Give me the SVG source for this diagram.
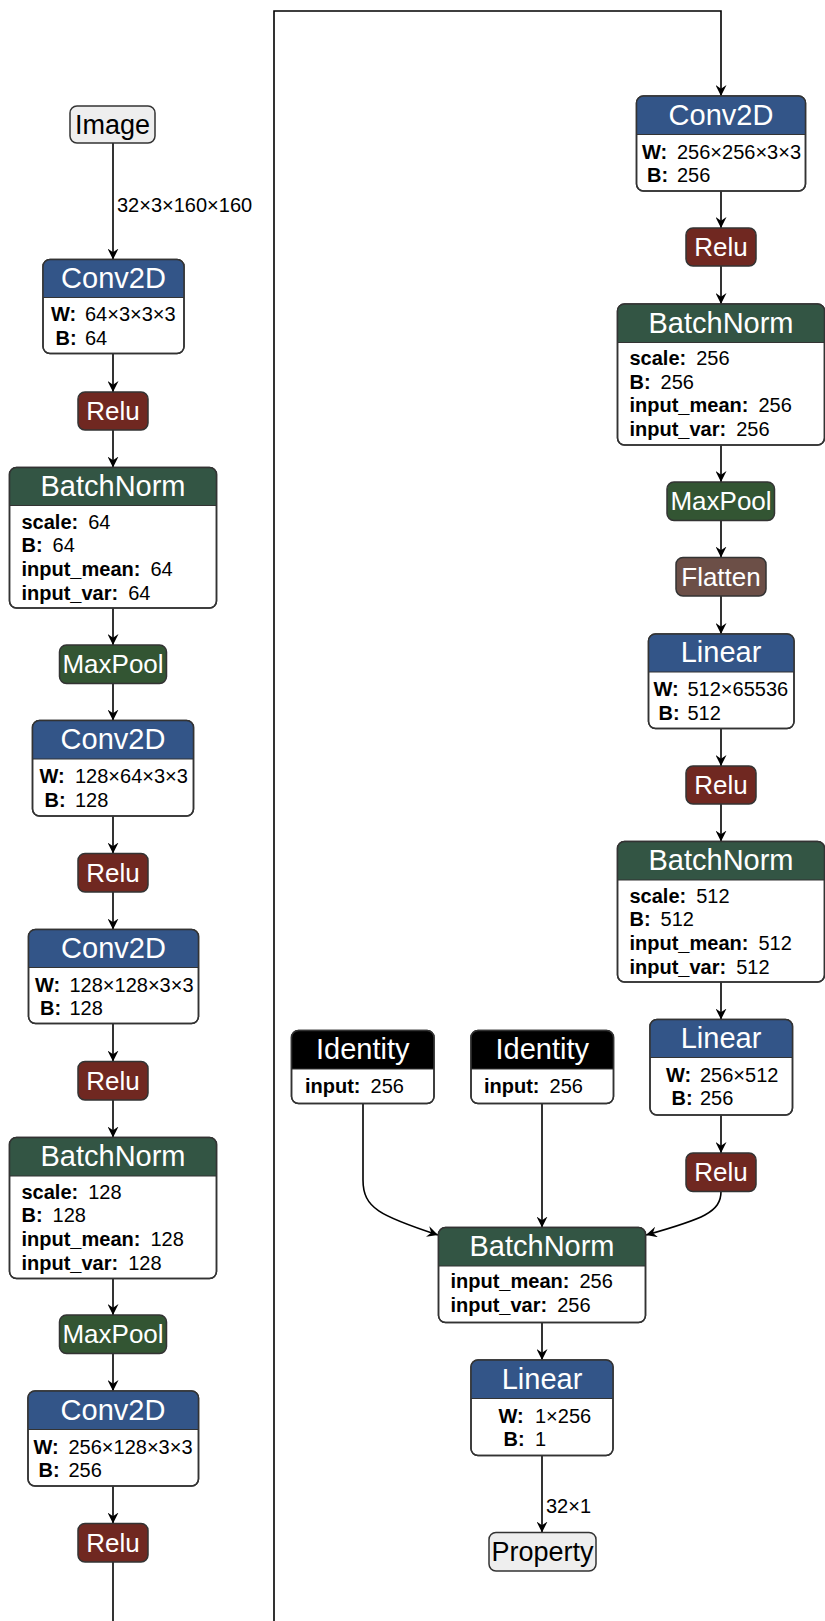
<svg xmlns="http://www.w3.org/2000/svg" width="825" height="1621" viewBox="0 0 825 1621">
<style>
text{font-family:"Liberation Sans",Arial,Helvetica,sans-serif;}
.box{fill:#fff;stroke:#333;stroke-width:1.5;}
.ol{fill:none;stroke:#333;stroke-width:1.5;}
.sep{stroke:#333;stroke-width:1.2;}
.conv{fill:#335588;}
.bn{fill:#335544;}
.act{fill:#702821;stroke:#333;stroke-width:1.5;}
.pool{fill:#335533;stroke:#333;stroke-width:1.5;}
.shape{fill:#6c4f47;stroke:#333;stroke-width:1.5;}
.idn{fill:#000;}
.io{fill:#eee;stroke:#333;stroke-width:1.5;}
.t{fill:#fff;font-size:29px;text-anchor:middle;}
.ts{fill:#fff;font-size:26px;text-anchor:middle;}
.tio{fill:#000;font-size:27px;text-anchor:middle;}
.a{fill:#000;font-size:20px;}
.n{font-weight:bold;}
.lbl{fill:#000;font-size:20px;}
.e{fill:none;stroke:#000;stroke-width:1.6;}
</style>
<defs>
<marker id="arr" viewBox="0 0 10 10" refX="10" refY="5" markerWidth="11" markerHeight="11" markerUnits="userSpaceOnUse" orient="auto">
<path d="M0,0 L10,5 L0,10 L3.5,5 Z" fill="#000"/>
</marker>
</defs>

<g id="connectors">
<path class="e" d="M113,143 V259.5" marker-end="url(#arr)"/>
<path class="e" d="M113,353.5 V392" marker-end="url(#arr)"/>
<path class="e" d="M113,430 V467.5" marker-end="url(#arr)"/>
<path class="e" d="M113,608 V645" marker-end="url(#arr)"/>
<path class="e" d="M113,683.5 V720.5" marker-end="url(#arr)"/>
<path class="e" d="M113,816 V853.5" marker-end="url(#arr)"/>
<path class="e" d="M113,892 V929.5" marker-end="url(#arr)"/>
<path class="e" d="M113,1023.5 V1061.5" marker-end="url(#arr)"/>
<path class="e" d="M113,1100 V1137.5" marker-end="url(#arr)"/>
<path class="e" d="M113,1278.5 V1315" marker-end="url(#arr)"/>
<path class="e" d="M113,1353.5 V1391" marker-end="url(#arr)"/>
<path class="e" d="M113,1486 V1523.5" marker-end="url(#arr)"/>
<path class="e" d="M113,1562 V1621"/>
<path class="e" d="M274,1621 V11 H721 V96" marker-end="url(#arr)"/>
<path class="e" d="M721,191 V228" marker-end="url(#arr)"/>
<path class="e" d="M721,266 V304" marker-end="url(#arr)"/>
<path class="e" d="M721,445 V482" marker-end="url(#arr)"/>
<path class="e" d="M721,520.5 V557.5" marker-end="url(#arr)"/>
<path class="e" d="M721,596 V634" marker-end="url(#arr)"/>
<path class="e" d="M721,728.5 V766" marker-end="url(#arr)"/>
<path class="e" d="M721,804 V841.5" marker-end="url(#arr)"/>
<path class="e" d="M721,982 V1019.5" marker-end="url(#arr)"/>
<path class="e" d="M721,1115 V1153" marker-end="url(#arr)"/>
<path class="e" d="M721,1191.5 C721,1212 703,1219 646,1235" marker-end="url(#arr)"/>
<path class="e" d="M363,1103.5 V1180 C363,1208 380,1216 438,1235" marker-end="url(#arr)"/>
<path class="e" d="M542,1103.5 V1227.5" marker-end="url(#arr)"/>
<path class="e" d="M542,1322.5 V1360" marker-end="url(#arr)"/>
<path class="e" d="M542,1456 V1532.5" marker-end="url(#arr)"/>
<text class="lbl" x="117" y="211.5">32×3×160×160</text>
<text class="lbl" x="546" y="1513">32×1</text>
</g>

<g id="image">
<rect class="io" x="70" y="106" width="85" height="37" rx="7"/>
<text class="tio" x="112.5" y="133.5">Image</text>
</g>

<g id="conv1">
<rect class="box" x="43" y="259.5" width="141" height="94" rx="7"/>
<path class="conv" d="M43,297.5 V266.5 A7,7 0 0 1 50,259.5 H177 A7,7 0 0 1 184,266.5 V297.5 Z"/>
<line class="sep" x1="43" y1="297.5" x2="184" y2="297.5"/>
<rect class="ol" x="43" y="259.5" width="141" height="94" rx="7"/>
<text class="t" x="113.5" y="287.5">Conv2D</text>
<text class="a n" x="51" y="321">W:</text><text class="a" x="85" y="321">64×3×3×3</text>
<text class="a n" x="55.5" y="344.5">B:</text><text class="a" x="85" y="344.5">64</text>
</g>

<g id="relu1">
<rect class="act" x="78" y="392" width="70" height="38" rx="7"/>
<text class="ts" x="113" y="420">Relu</text>
</g>

<g id="bn1">
<rect class="box" x="9.5" y="467.5" width="207" height="140.5" rx="7"/>
<path class="bn" d="M9.5,505.5 V474.5 A7,7 0 0 1 16.5,467.5 H209.5 A7,7 0 0 1 216.5,474.5 V505.5 Z"/>
<line class="sep" x1="9.5" y1="505.5" x2="216.5" y2="505.5"/>
<rect class="ol" x="9.5" y="467.5" width="207" height="140.5" rx="7"/>
<text class="t" x="113" y="496">BatchNorm</text>
<text class="a" x="21.5" y="528.5"><tspan class="n">scale:</tspan><tspan dx="10">64</tspan></text>
<text class="a" x="21.5" y="552.2"><tspan class="n">B:</tspan><tspan dx="10">64</tspan></text>
<text class="a" x="21.5" y="575.9"><tspan class="n">input_mean:</tspan><tspan dx="10">64</tspan></text>
<text class="a" x="21.5" y="599.6"><tspan class="n">input_var:</tspan><tspan dx="10">64</tspan></text>
</g>

<g id="maxpool1">
<rect class="pool" x="59.5" y="645" width="107" height="38.5" rx="7"/>
<text class="ts" x="113" y="673">MaxPool</text>
</g>

<g id="conv2">
<rect class="box" x="32.5" y="720.5" width="161" height="95.5" rx="7"/>
<path class="conv" d="M32.5,759 V727.5 A7,7 0 0 1 39.5,720.5 H186.5 A7,7 0 0 1 193.5,727.5 V759 Z"/>
<line class="sep" x1="32.5" y1="759" x2="193.5" y2="759"/>
<rect class="ol" x="32.5" y="720.5" width="161" height="95.5" rx="7"/>
<text class="t" x="113" y="749">Conv2D</text>
<text class="a n" x="39.5" y="783">W:</text><text class="a" x="75" y="783">128×64×3×3</text>
<text class="a n" x="44.5" y="806.7">B:</text><text class="a" x="75" y="806.7">128</text>
</g>

<g id="relu2">
<rect class="act" x="78" y="853.5" width="70" height="38.5" rx="7"/>
<text class="ts" x="113" y="881.5">Relu</text>
</g>

<g id="conv3">
<rect class="box" x="28.5" y="929.5" width="170" height="94" rx="7"/>
<path class="conv" d="M28.5,967.5 V936.5 A7,7 0 0 1 35.5,929.5 H191.5 A7,7 0 0 1 198.5,936.5 V967.5 Z"/>
<line class="sep" x1="28.5" y1="967.5" x2="198.5" y2="967.5"/>
<rect class="ol" x="28.5" y="929.5" width="170" height="94" rx="7"/>
<text class="t" x="113.5" y="957.5">Conv2D</text>
<text class="a n" x="35" y="991.5">W:</text><text class="a" x="69.5" y="991.5">128×128×3×3</text>
<text class="a n" x="40" y="1015.2">B:</text><text class="a" x="69.5" y="1015.2">128</text>
</g>

<g id="relu3">
<rect class="act" x="78" y="1061.5" width="70" height="38.5" rx="7"/>
<text class="ts" x="113" y="1089.5">Relu</text>
</g>

<g id="bn2">
<rect class="box" x="9.5" y="1137.5" width="207" height="141" rx="7"/>
<path class="bn" d="M9.5,1176 V1144.5 A7,7 0 0 1 16.5,1137.5 H209.5 A7,7 0 0 1 216.5,1144.5 V1176 Z"/>
<line class="sep" x1="9.5" y1="1176" x2="216.5" y2="1176"/>
<rect class="ol" x="9.5" y="1137.5" width="207" height="141" rx="7"/>
<text class="t" x="113" y="1166">BatchNorm</text>
<text class="a" x="21.5" y="1198.5"><tspan class="n">scale:</tspan><tspan dx="10">128</tspan></text>
<text class="a" x="21.5" y="1222.2"><tspan class="n">B:</tspan><tspan dx="10">128</tspan></text>
<text class="a" x="21.5" y="1245.9"><tspan class="n">input_mean:</tspan><tspan dx="10">128</tspan></text>
<text class="a" x="21.5" y="1269.6"><tspan class="n">input_var:</tspan><tspan dx="10">128</tspan></text>
</g>

<g id="maxpool2">
<rect class="pool" x="59.5" y="1315" width="107" height="38.5" rx="7"/>
<text class="ts" x="113" y="1343">MaxPool</text>
</g>

<g id="conv4">
<rect class="box" x="28" y="1391" width="170.5" height="95" rx="7"/>
<path class="conv" d="M28,1429.5 V1398 A7,7 0 0 1 35,1391 H191.5 A7,7 0 0 1 198.5,1398 V1429.5 Z"/>
<line class="sep" x1="28" y1="1429.5" x2="198.5" y2="1429.5"/>
<rect class="ol" x="28" y="1391" width="170.5" height="95" rx="7"/>
<text class="t" x="113" y="1419.5">Conv2D</text>
<text class="a n" x="33.5" y="1453.5">W:</text><text class="a" x="68.5" y="1453.5">256×128×3×3</text>
<text class="a n" x="38.5" y="1477.2">B:</text><text class="a" x="68.5" y="1477.2">256</text>
</g>

<g id="relu4">
<rect class="act" x="78" y="1523.5" width="70" height="38.5" rx="7"/>
<text class="ts" x="113" y="1551.5">Relu</text>
</g>

<g id="convR1">
<rect class="box" x="636.5" y="96" width="169" height="95" rx="7"/>
<path class="conv" d="M636.5,134.5 V103 A7,7 0 0 1 643.5,96 H798.5 A7,7 0 0 1 805.5,103 V134.5 Z"/>
<line class="sep" x1="636.5" y1="134.5" x2="805.5" y2="134.5"/>
<rect class="ol" x="636.5" y="96" width="169" height="95" rx="7"/>
<text class="t" x="721" y="124.5">Conv2D</text>
<text class="a n" x="642" y="158.5">W:</text><text class="a" x="677" y="158.5">256×256×3×3</text>
<text class="a n" x="647" y="182.2">B:</text><text class="a" x="677" y="182.2">256</text>
</g>

<g id="reluR1">
<rect class="act" x="686" y="228" width="70" height="38" rx="7"/>
<text class="ts" x="721" y="256">Relu</text>
</g>

<g id="bnR1">
<rect class="box" x="617.5" y="304" width="207" height="141" rx="7"/>
<path class="bn" d="M617.5,342.5 V311 A7,7 0 0 1 624.5,304 H817.5 A7,7 0 0 1 824.5,311 V342.5 Z"/>
<line class="sep" x1="617.5" y1="342.5" x2="824.5" y2="342.5"/>
<rect class="ol" x="617.5" y="304" width="207" height="141" rx="7"/>
<text class="t" x="721" y="332.5">BatchNorm</text>
<text class="a" x="629.5" y="365"><tspan class="n">scale:</tspan><tspan dx="10">256</tspan></text>
<text class="a" x="629.5" y="388.7"><tspan class="n">B:</tspan><tspan dx="10">256</tspan></text>
<text class="a" x="629.5" y="412.4"><tspan class="n">input_mean:</tspan><tspan dx="10">256</tspan></text>
<text class="a" x="629.5" y="436.1"><tspan class="n">input_var:</tspan><tspan dx="10">256</tspan></text>
</g>

<g id="maxpoolR1">
<rect class="pool" x="667" y="482" width="107.5" height="38.5" rx="7"/>
<text class="ts" x="721" y="510">MaxPool</text>
</g>

<g id="flatten">
<rect class="shape" x="676" y="557.5" width="90" height="38.5" rx="7"/>
<text class="ts" x="721" y="585.5">Flatten</text>
</g>

<g id="linearR1">
<rect class="box" x="648.5" y="634" width="145.5" height="94.5" rx="7"/>
<path class="conv" d="M648.5,672 V641 A7,7 0 0 1 655.5,634 H787 A7,7 0 0 1 794,641 V672 Z"/>
<line class="sep" x1="648.5" y1="672" x2="794" y2="672"/>
<rect class="ol" x="648.5" y="634" width="145.5" height="94.5" rx="7"/>
<text class="t" x="721" y="662">Linear</text>
<text class="a n" x="653.5" y="696">W:</text><text class="a" x="687.5" y="696">512×65536</text>
<text class="a n" x="658.5" y="719.7">B:</text><text class="a" x="687.5" y="719.7">512</text>
</g>

<g id="reluR2">
<rect class="act" x="686" y="766" width="70" height="38" rx="7"/>
<text class="ts" x="721" y="794">Relu</text>
</g>

<g id="bnR2">
<rect class="box" x="617.5" y="841.5" width="207" height="140.5" rx="7"/>
<path class="bn" d="M617.5,880 V848.5 A7,7 0 0 1 624.5,841.5 H817.5 A7,7 0 0 1 824.5,848.5 V880 Z"/>
<line class="sep" x1="617.5" y1="880" x2="824.5" y2="880"/>
<rect class="ol" x="617.5" y="841.5" width="207" height="140.5" rx="7"/>
<text class="t" x="721" y="870">BatchNorm</text>
<text class="a" x="629.5" y="902.5"><tspan class="n">scale:</tspan><tspan dx="10">512</tspan></text>
<text class="a" x="629.5" y="926.2"><tspan class="n">B:</tspan><tspan dx="10">512</tspan></text>
<text class="a" x="629.5" y="949.9"><tspan class="n">input_mean:</tspan><tspan dx="10">512</tspan></text>
<text class="a" x="629.5" y="973.6"><tspan class="n">input_var:</tspan><tspan dx="10">512</tspan></text>
</g>

<g id="linearR2">
<rect class="box" x="650" y="1019.5" width="142.5" height="95.5" rx="7"/>
<path class="conv" d="M650,1057.5 V1026.5 A7,7 0 0 1 657,1019.5 H785.5 A7,7 0 0 1 792.5,1026.5 V1057.5 Z"/>
<line class="sep" x1="650" y1="1057.5" x2="792.5" y2="1057.5"/>
<rect class="ol" x="650" y="1019.5" width="142.5" height="95.5" rx="7"/>
<text class="t" x="721" y="1047.5">Linear</text>
<text class="a n" x="666" y="1081.5">W:</text><text class="a" x="700" y="1081.5">256×512</text>
<text class="a n" x="671.5" y="1105.2">B:</text><text class="a" x="700" y="1105.2">256</text>
</g>

<g id="reluR3">
<rect class="act" x="686" y="1153" width="70" height="38.5" rx="7"/>
<text class="ts" x="721" y="1181">Relu</text>
</g>

<g id="identity1">
<rect class="box" x="291.5" y="1030.5" width="142.5" height="73" rx="7"/>
<path class="idn" d="M291.5,1069 V1037.5 A7,7 0 0 1 298.5,1030.5 H427 A7,7 0 0 1 434,1037.5 V1069 Z"/>
<line class="sep" x1="291.5" y1="1069" x2="434" y2="1069"/>
<rect class="ol" x="291.5" y="1030.5" width="142.5" height="73" rx="7"/>
<text class="t" x="362.75" y="1059">Identity</text>
<text class="a" x="305" y="1092.5"><tspan class="n">input:</tspan><tspan dx="10">256</tspan></text>
</g>

<g id="identity2">
<rect class="box" x="471" y="1030.5" width="142.5" height="73" rx="7"/>
<path class="idn" d="M471,1069 V1037.5 A7,7 0 0 1 478,1030.5 H606.5 A7,7 0 0 1 613.5,1037.5 V1069 Z"/>
<line class="sep" x1="471" y1="1069" x2="613.5" y2="1069"/>
<rect class="ol" x="471" y="1030.5" width="142.5" height="73" rx="7"/>
<text class="t" x="542.25" y="1059">Identity</text>
<text class="a" x="484" y="1092.5"><tspan class="n">input:</tspan><tspan dx="10">256</tspan></text>
</g>

<g id="bnMerge">
<rect class="box" x="438.5" y="1227.5" width="207" height="95" rx="7"/>
<path class="bn" d="M438.5,1266 V1234.5 A7,7 0 0 1 445.5,1227.5 H638.5 A7,7 0 0 1 645.5,1234.5 V1266 Z"/>
<line class="sep" x1="438.5" y1="1266" x2="645.5" y2="1266"/>
<rect class="ol" x="438.5" y="1227.5" width="207" height="95" rx="7"/>
<text class="t" x="542" y="1256">BatchNorm</text>
<text class="a" x="450.5" y="1288"><tspan class="n">input_mean:</tspan><tspan dx="10">256</tspan></text>
<text class="a" x="450.5" y="1311.7"><tspan class="n">input_var:</tspan><tspan dx="10">256</tspan></text>
</g>

<g id="linearOut">
<rect class="box" x="471" y="1360" width="142" height="95.5" rx="7"/>
<path class="conv" d="M471,1398.5 V1367 A7,7 0 0 1 478,1360 H606 A7,7 0 0 1 613,1367 V1398.5 Z"/>
<line class="sep" x1="471" y1="1398.5" x2="613" y2="1398.5"/>
<rect class="ol" x="471" y="1360" width="142" height="95.5" rx="7"/>
<text class="t" x="542" y="1388.5">Linear</text>
<text class="a n" x="498.5" y="1422.5">W:</text><text class="a" x="535" y="1422.5">1×256</text>
<text class="a n" x="503.5" y="1446.2">B:</text><text class="a" x="535" y="1446.2">1</text>
</g>

<g id="property">
<rect class="io" x="489" y="1532.5" width="107" height="38.5" rx="7"/>
<text class="tio" x="542.5" y="1560.5">Property</text>
</g>
</svg>
